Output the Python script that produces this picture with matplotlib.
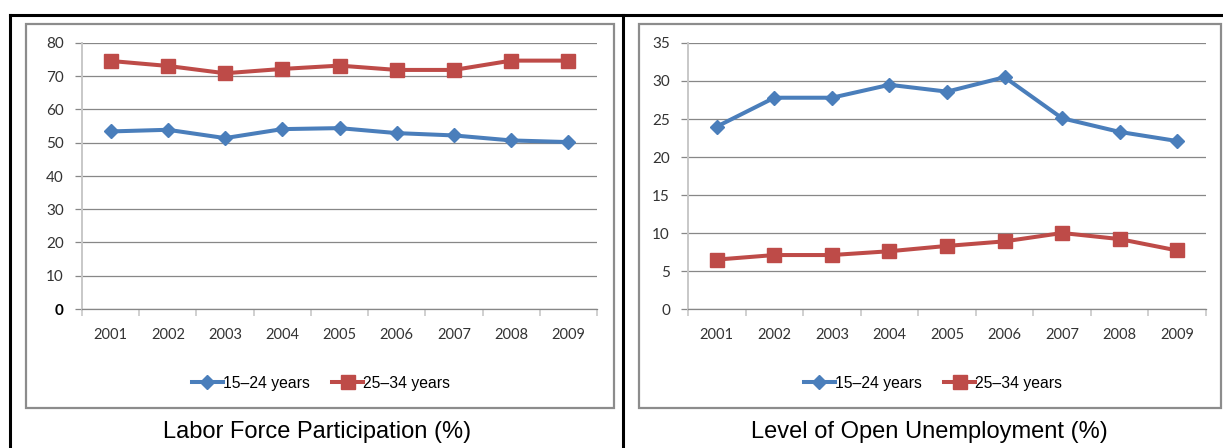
import matplotlib
matplotlib.use("Agg")
from matplotlib import pyplot as plt
from matplotlib.patches import Rectangle
from matplotlib.lines import Line2D

# data
years = ["2001", "2002", "2003", "2004", "2005", "2006", "2007", "2008", "2009"]
series_names = ["15\u201324 years", "25\u201334 years"]

participation_young = [53.4, 53.9, 51.4, 54.1, 54.4, 52.9, 52.2, 50.7, 50.2]
participation_adult = [74.6, 73.1, 70.9, 72.2, 73.2, 71.9, 71.9, 74.7, 74.7]

unemployment_young = [24.0, 27.8, 27.8, 29.5, 28.6, 30.5, 25.1, 23.3, 22.1]
unemployment_adult = [6.5, 7.1, 7.1, 7.6, 8.3, 8.9, 10.0, 9.2, 7.7]

captions = ["Labor Force Participation (%)", "Level of Open Unemployment (%)"]

W, H = 1223, 448
BLUE = "#4a7ebb"
RED = "#be4b48"
GRID = "#878787"


def fx(px):
    return px / W


def fy(py):
    return 1 - py / H


fig = plt.figure(figsize=(W / 100, H / 100), dpi=100)
fig.patch.set_facecolor("white")

# outer frame and divider
fig.add_artist(Line2D([fx(9.5), fx(9.5)], [fy(15.5), fy(448)], color="black", lw=2.2))
fig.add_artist(Line2D([fx(9.5), fx(1223)], [fy(15.5), fy(15.5)], color="black", lw=2.2))
fig.add_artist(Line2D([fx(623), fx(623)], [fy(15.5), fy(448)], color="black", lw=2.2))

# chart boxes
for x0, x1 in [(26, 614), (639, 1221)]:
    fig.add_artist(Rectangle((fx(x0), fy(408)), fx(x1 - x0), (408 - 24) / H,
                             fill=False, edgecolor="#8c8c8c", lw=1.6))


def draw_panel(rect_px, young, adult, ymax, ystep, bold_zero, legend_xy, caption, caption_x):
    x0, x1, ytop, ybot = rect_px
    ax = fig.add_axes([fx(x0), fy(ybot), fx(x1 - x0), (ybot - ytop) / H])
    xs = range(len(years))
    ax.plot(xs, young, color=BLUE, lw=2.9, marker="D", ms=7.5, label=series_names[0])
    ax.plot(xs, adult, color=RED, lw=2.9, marker="s", ms=10, label=series_names[1])

    ax.set_xlim(-0.5, len(years) - 0.5)
    ax.set_ylim(0, ymax)
    ax.set_yticks(range(0, ymax + 1, ystep))
    ax.set_xticks(list(xs))
    ax.set_xticklabels(years, family="Lato", fontsize=10.5, color="#333333")
    ax.set_xticks([i - 0.5 for i in range(len(years) + 1)], minor=True)

    ax.yaxis.grid(True, color=GRID, lw=0.9)
    ax.set_axisbelow(True)
    for s in ["top", "right"]:
        ax.spines[s].set_visible(False)
    ax.spines["left"].set_color("#c8c8c8")
    ax.spines["left"].set_linewidth(1.4)
    ax.spines["bottom"].set_color(GRID)
    ax.spines["bottom"].set_linewidth(0.9)

    ax.tick_params(axis="x", which="major", length=0, pad=14)
    ax.tick_params(axis="x", which="minor", length=5, color="#c8c8c8", width=1.2)
    ax.tick_params(axis="y", length=5, color=GRID, width=0.9, pad=8)
    for lab in ax.get_yticklabels():
        lab.set_family("Lato")
        lab.set_fontsize(11)
        lab.set_color("#333333")
    if bold_zero:
        ax.get_yticklabels()[0].set_fontweight("bold")
        ax.get_yticklabels()[0].set_color("black")

    fig.legend(loc="center", bbox_to_anchor=(fx(legend_xy[0]), fy(legend_xy[1])),
               ncol=2, frameon=False, handlelength=2.0, handletextpad=0.0,
               columnspacing=1.4, prop={"family": "Liberation Sans", "size": 11.3},
               handles=ax.get_lines())
    fig.text(fx(caption_x), fy(432), caption, ha="center", va="center",
             family="Liberation Sans", fontsize=17)
    return ax


draw_panel((82, 597, 43, 309), participation_young, participation_adult, 80, 10, True,
           (321, 383), captions[0], 317)
draw_panel((688, 1206, 43, 309), unemployment_young, unemployment_adult, 35, 5, False,
           (933, 383), captions[1], 929)

fig.savefig("out.png", dpi=100, facecolor="white")
